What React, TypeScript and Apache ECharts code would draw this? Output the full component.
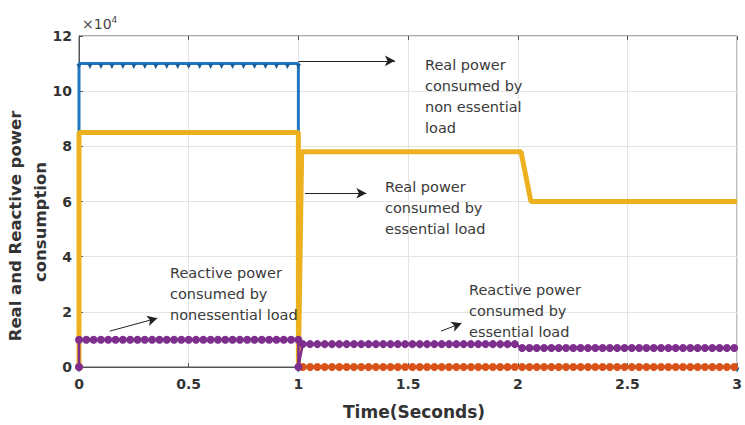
import React, { useEffect, useRef } from "react";
import * as echarts from "echarts";

// Segment boundaries (seconds) and level (W / VAr)
const segmentEdges = [0, 1, 2, 3];
const blueLevels = [110000, 0, 0]; // real power, non essential load
const yellowLevels = [85000, 78000, 60000]; // real power, essential load
const purpleLevels = [9900, 8300, 6900]; // reactive power
const orangeLevels = [0, 0, 0]; // reactive power
const yellowRampEnd = 2.06;
const sampleStep = 1 / 30; // simulation output sample period
const blueStep = 0.05;

const xTicks = [0, 0.5, 1, 1.5, 2, 2.5, 3];

const annotations = [
  { text: "Real power\nconsumed by\nnon essential\nload", x: 425, y: 54 },
  { text: "Real power\nconsumed by\nessential load", x: 385, y: 176 },
  { text: "Reactive power\nconsumed by\nnonessential load", x: 170, y: 262 },
  { text: "Reactive power\nconsumed by\nessential load", x: 469, y: 279 },
];

const arrows: [number, number, number, number][] = [
  [1.0, 111000, 1.44, 111000],
  [1.03, 63000, 1.31, 63000],
  [0.14, 13000, 0.357, 17700],
  [1.65, 13000, 1.744, 15900],
];

function grid(a: number, b: number, step: number): number[] {
  const out: number[] = [];
  const n = Math.round((b - a) / step);
  for (let i = 0; i <= n; i++) out.push(+(a + i * step).toFixed(4));
  return out;
}

export default function App() {
  const ref = useRef<HTMLDivElement>(null);
  useEffect(() => {
    if (!ref.current) return;
    const chart = echarts.init(ref.current, undefined, { renderer: "svg" });

    const blue: any[] = [[0, 0]];
    grid(0, 1, blueStep).forEach((t) => blue.push([t, blueLevels[0]]));
    blue.push([1, blueLevels[1]]);
    blue.push([3, blueLevels[2]]);

    const yellow: any[] = [[0, 0], [0, yellowLevels[0]], [1, yellowLevels[0]], [1, 0], [1.015, yellowLevels[1]], [segmentEdges[2] + 0.015, yellowLevels[1]], [yellowRampEnd, yellowLevels[2]], [3, yellowLevels[2]]];

    const purple: any[] = [[0, 0]];
    grid(0, 1, sampleStep).forEach((t) => purple.push([t, purpleLevels[0]]));
    purple.push([1, 0]);
    grid(1.02, 2, sampleStep).forEach((t) => purple.push([t, purpleLevels[1]]));
    grid(2.02, 3, sampleStep).forEach((t) => purple.push([t, purpleLevels[2]]));

    const orange: any[] = [[0, orangeLevels[0]], "-"];
    grid(1.02, 3, sampleStep).forEach((t) =>
      orange.push([t, t < 2 ? orangeLevels[1] : orangeLevels[2]])
    );

    const tickFont = {
      fontFamily: "DejaVu Sans",
      fontWeight: "bold" as const,
      fontSize: 14,
      color: "#333",
    };

    chart.setOption({
      animation: false,
      backgroundColor: "#fff",
      grid: {
        left: 79,
        top: 36,
        right: 2,
        bottom: 56,
        show: true,
        borderColor: "#555",
        borderWidth: 1,
      },
      xAxis: [
        {
          type: "value",
          min: 0,
          max: 3,
          interval: 0.5,
          axisLine: { show: true, lineStyle: { color: "#555" } },
          axisTick: { inside: true, length: 4, lineStyle: { color: "#555" } },
          splitLine: { show: true, lineStyle: { color: "#e4e4e4" } },
          axisLabel: { ...tickFont, margin: 10, formatter: (v: number) => (xTicks.includes(v) ? String(v) : "") },
          name: "Time(Seconds)",
          nameLocation: "middle",
          nameGap: 36,
          nameTextStyle: { fontFamily: "DejaVu Sans", fontWeight: "bold", fontSize: 17, color: "#333", padding: [0, 0, 0, 12] },
        },
        {
          type: "value",
          position: "top",
          min: 0,
          max: 3,
          interval: 0.5,
          axisLine: { show: false },
          axisTick: { inside: true, length: 4, lineStyle: { color: "#555" } },
          axisLabel: { show: false },
          splitLine: { show: false },
        },
      ],
      yAxis: {
        type: "value",
        min: 0,
        max: 120000,
        interval: 20000,
        axisLine: { show: true, lineStyle: { color: "#555" } },
        axisTick: { inside: true, length: 4, lineStyle: { color: "#555" } },
        splitLine: { show: true, lineStyle: { color: "#e4e4e4" } },
        axisLabel: { ...tickFont, margin: 7, formatter: (v: number) => String(v / 10000) },
      },
      graphic: [
        {
          type: "text",
          left: 82,
          top: 15,
          style: {
            text: "{a|×10}{b|4}",
            rich: {
              a: { fontFamily: "DejaVu Sans", fontSize: 14, fill: "#444" },
              b: { fontFamily: "DejaVu Sans", fontSize: 9, fill: "#444", verticalAlign: "top", padding: [0, 0, 8, 0] },
            },
          },
        },
        {
          type: "text",
          x: 15,
          y: 226,
          rotation: Math.PI / 2,
          style: {
            text: "Real and Reactive power",
            fontFamily: "DejaVu Sans",
            fontWeight: "bold",
            fontSize: 16.5,
            fill: "#333",
            align: "center",
            verticalAlign: "middle",
          },
        },
        {
          type: "text",
          x: 40,
          y: 222,
          rotation: Math.PI / 2,
          style: {
            text: "consumption",
            fontFamily: "DejaVu Sans",
            fontWeight: "bold",
            fontSize: 16.5,
            fill: "#333",
            align: "center",
            verticalAlign: "middle",
          },
        },
        ...annotations.map((a) => ({
          type: "text",
          left: a.x,
          top: a.y,
          z: 100,
          style: {
            text: a.text,
            fontFamily: "DejaVu Sans",
            fontSize: 14.5,
            lineHeight: 21,
            fill: "#3a3a3a",
          },
        })),
      ],
      series: [
        {
          name: "Real power non essential",
          type: "line",
          data: blue,
          lineStyle: { color: "#1f78c1", width: 3 },
          symbol: "triangle",
          symbolRotate: 180,
          symbolSize: 5,
          symbolOffset: [0, 3],
          itemStyle: { color: "#1b5f99" },
          showAllSymbol: true,
          markLine: {
            silent: true,
            symbol: ["none", "arrow"],
            symbolSize: [8, 10],
            label: { show: false },
            lineStyle: { color: "#222", width: 1, type: "solid" },
            data: arrows.map((a) => [{ coord: [a[0], a[1]] }, { coord: [a[2], a[3]] }]),
          },
          z: 2,
        },
        {
          name: "Real power essential",
          type: "line",
          data: yellow,
          lineStyle: { color: "#EDB120", width: 5 },
          showSymbol: false,
          z: 3,
        },
        {
          name: "Reactive power (orange)",
          type: "line",
          data: orange,
          connectNulls: false,
          lineStyle: { color: "#D95319", width: 2 },
          symbol: "circle",
          symbolSize: 8,
          itemStyle: { color: "#D95319" },
          showAllSymbol: true,
          z: 4,
        },
        {
          name: "Reactive power (purple)",
          type: "line",
          data: purple,
          lineStyle: { color: "#7E2F8E", width: 2.5 },
          symbol: "circle",
          symbolSize: 8,
          itemStyle: { color: "#7E2F8E" },
          showAllSymbol: true,
          z: 5,
        },
      ],
    });
    return () => chart.dispose();
  }, []);
  return (
    <div
      ref={ref}
      style={{ position: "fixed", left: 0, top: 0, width: 745, height: 425 }}
    />
  );
}
